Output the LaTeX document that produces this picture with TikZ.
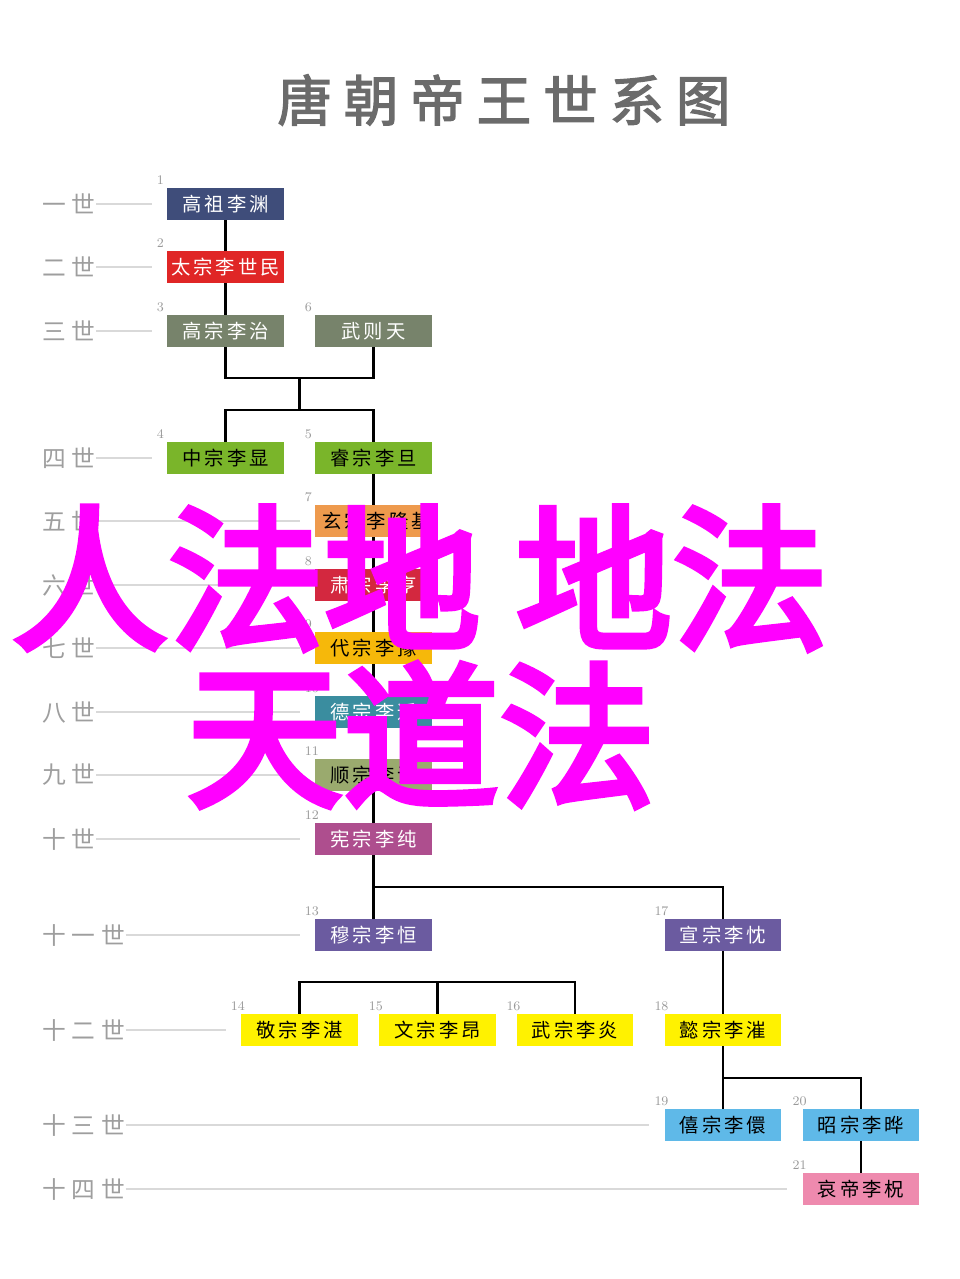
\documentclass[tikz,border=0pt]{standalone}
\usepackage{fontspec}
\usetikzlibrary{backgrounds}
\newfontfamily\cjk[FakeBold=4]{Noto Sans CJK SC}
\newfontfamily\boxfont[LetterSpace=16]{Noto Sans CJK SC}
\newfontfamily\genfont[LetterSpace=25]{Noto Sans CJK SC}
\newfontfamily\titlefont[LetterSpace=22,FakeBold=2.5]{Noto Sans CJK SC}
\definecolor{cnavy}{HTML}{3F4D7A}
\definecolor{cred}{HTML}{E02626}
\definecolor{cgrey}{HTML}{77836B}
\definecolor{cgreen}{HTML}{7AB52A}
\definecolor{corange}{HTML}{EE9A4D}
\definecolor{ccrimson}{HTML}{D3283F}
\definecolor{camber}{HTML}{F6B80A}
\definecolor{cteal}{HTML}{3A8D9F}
\definecolor{colive}{HTML}{9AAA6E}
\definecolor{cmauve}{HTML}{AE4E8E}
\definecolor{cpurple}{HTML}{6B5BA0}
\definecolor{cyellow}{HTML}{FFF200}
\definecolor{cblue}{HTML}{5FB9E8}
\definecolor{cpink}{HTML}{EE8AAE}
\definecolor{cmagenta}{HTML}{FF00FF}

\begin{document}
\begin{tikzpicture}[x=0.02cm,y=-0.02cm,
    king/.style={minimum width=2.34cm,minimum height=0.64cm,inner sep=0,
      font=\boxfont\fontsize{11pt}{12pt}\selectfont},
    num/.style={anchor=base west,inner sep=0,text=black!40,
      font=\fontsize{7.5pt}{8pt}\selectfont},
    gen/.style={anchor=west,inner sep=0,text=black!38,
      font=\genfont\fontsize{13.5pt}{14pt}\selectfont},
    genline/.style={black!15,line width=0.8pt},
    link/.style={black,line width=1.6pt}]
        \useasboundingbox (0,0) rectangle (960,1279);
        \node[text=black!58,font=\titlefont\fontsize{31pt}{32pt}\selectfont] (title) at (504,100) {唐朝帝王世系图};
        % the kings
        \foreach \n/\x/\y/\c/\tc/\t in {1/225.5/204/cnavy/white/高祖李渊,
            2/225.5/267/cred/white/太宗李世民, 3/225.5/331/cgrey/white/高宗李治,
            6/373.5/331/cgrey/white/武则天, 4/225.5/458/cgreen/black/中宗李显,
            5/373.5/458/cgreen/black/睿宗李旦, 8/373.5/585/ccrimson/white/肃宗李亨,
            9/373.5/648/camber/black/代宗李豫, 10/373.5/712/cteal/white/德宗李适,
            11/373.5/775/colive/black/顺宗李诵, 12/373.5/839/cmauve/white/宪宗李纯,
            13/373.5/935/cpurple/white/穆宗李恒, 17/723/935/cpurple/white/宣宗李忱,
            14/299.5/1030/cyellow/black/敬宗李湛, 15/437.5/1030/cyellow/black/文宗李昂,
            16/575/1030/cyellow/black/武宗李炎, 18/723/1030/cyellow/black/懿宗李漼,
            19/723/1125/cblue/black/僖宗李儇, 20/861/1125/cblue/black/昭宗李晔,
            21/861/1189/cpink/black/哀帝李柷}
        \node[king,fill=\c,text=\tc] (g\n) at (\x,\y) {\t};
        \node[king,fill=corange,text=black,minimum width=2.46cm] (g7) at (376.5,521) {玄宗李隆基};
        \foreach \n in {1,...,21}
        \node[num] at ([xshift=-5.7pt,yshift=1.7pt]g\n.north west) {\n};
        % generations
        \foreach \n/\y/\t in {1/204/一世, 2/267/二世, 3/331/三世, 4/458/四世, 5/521/五世,
            6/585/六世, 7/648/七世, 8/712/八世, 9/775/九世, 10/839/十世,
            11/935/十一世, 12/1030/十二世, 13/1125/十三世, 14/1189/十四世}
        \node[gen] (s\n) at (42,\y) {\t};
        \foreach \n/\b in {1/g1, 2/g2, 3/g3, 4/g4, 5/g7, 6/g8, 7/g9, 8/g10, 9/g11,
            10/g12, 11/g13, 12/g14, 13/g19, 14/g21}
        \draw[genline] (s\n.east) -- ([xshift=-8.5pt]\b.west |- s\n.east);
        % lines of descent
        \coordinate (j1) at (299.5,378);
        \coordinate (j2) at (299.5,410);
        \coordinate (j3) at (373.5,887);
        \coordinate (j4) at (373.5,982);
        \coordinate (j5) at (723,1078);
        \begin{scope}[on background layer]
        \draw[link] (g1) -- (g2);
        \draw[link] (g2) -- (g3);
        \draw[link] (g3.south) |- (j1) -| (g6.south);
        \draw[link] (j1) -- (j2);
        \draw[link] (g4.north) |- (j2) -| (g5.north);
        \draw[link] (g5.south) -- (g5.south |- g7.north);
        \draw[link] (g5.south |- g7.south) -- (g8.north);
        \foreach \a/\b in {g8/g9, g9/g10, g10/g11, g11/g12, g12/g13, g17/g18, g18/g19, g20/g21}
        \draw[link] (\a) -- (\b);
        \draw[link] (j3) -| (g17.north);
        \draw[link] (g14.north) |- (j4) -| (g16.north);
        \draw[link] (g15.north) -- (g15.north |- j4);
        \draw[link] (j5) -| (g20.north);
        \end{scope}
        % overlay
        \node[text=cmagenta,inner sep=0,font=\cjk\fontsize{89pt}{89pt}\selectfont] (w1) at (420,578) {人法地 地法};
        \node[text=cmagenta,inner sep=0,font=\cjk\fontsize{89pt}{89pt}\selectfont] (w2) at (421,735) {天道法};
        \end{tikzpicture}
\end{document}
